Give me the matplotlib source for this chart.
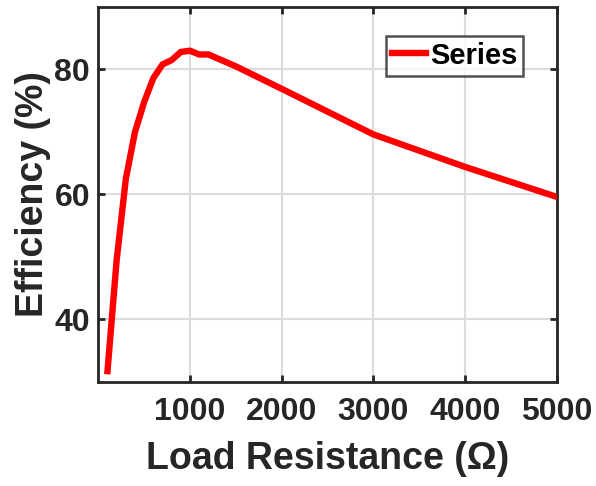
import numpy as np
import matplotlib
matplotlib.use("Agg")
import matplotlib.pyplot as plt

# Efficiency vs load resistance
load_res = [100, 200, 300, 400, 500, 600, 700, 800, 900, 1000, 1100, 1200,
            1500, 2000, 3000, 4000, 5000]
efficiency = [31.7, 49.5, 62.5, 70.0, 74.8, 78.6, 80.8, 81.5, 82.8, 83.0, 82.4,
              82.4, 80.5, 76.9, 69.6, 64.4, 59.6]
x_ticks = [1000, 2000, 3000, 4000, 5000]
y_ticks = [40, 60, 80]

plt.rcParams['font.family'] = ['Liberation Sans', 'DejaVu Sans']
plt.rcParams['font.weight'] = 'bold'

fig = plt.figure(figsize=(5.96, 4.86), dpi=100)
ax = fig.add_axes([0.165, 0.2146, 0.769, 0.771])

ax.plot(load_res, efficiency, color='#ff0000', lw=4.6, label='Series',
        solid_joinstyle='miter', zorder=3)

ax.set_xlim(0, 5000)
ax.set_ylim(30, 90)
ax.set_xticks(x_ticks)
ax.set_yticks(y_ticks)
ax.grid(True, color='#dcdcdc', lw=1.5)
ax.set_axisbelow(True)

for s in ax.spines.values():
    s.set_color('#262626')
    s.set_linewidth(2.0)
ax.tick_params(direction='in', length=5, width=2.0, colors='#262626',
               labelsize=23, top=True, right=True)
ax.tick_params(axis='x', pad=11)
ax.tick_params(axis='y', pad=6)
for lab in ax.get_xticklabels() + ax.get_yticklabels():
    lab.set_fontweight('bold')

ax.set_xlabel('Load Resistance (\u03a9)', fontsize=27, fontweight='bold',
              color='#262626', labelpad=10)
ax.set_ylabel('Efficiency (%)', fontsize=27, fontweight='bold',
              color='#262626', labelpad=2)

leg = ax.legend(loc='upper right', bbox_to_anchor=(0.927, 0.923), fontsize=21,
                frameon=True, fancybox=False, handlelength=1.15,
                handletextpad=0.15, borderpad=0.2, borderaxespad=0)
leg.get_frame().set_edgecolor('#262626')
leg.get_frame().set_linewidth(1.8)
for t in leg.get_texts():
    t.set_fontweight('bold')

fig.savefig('out.png', dpi=100)
